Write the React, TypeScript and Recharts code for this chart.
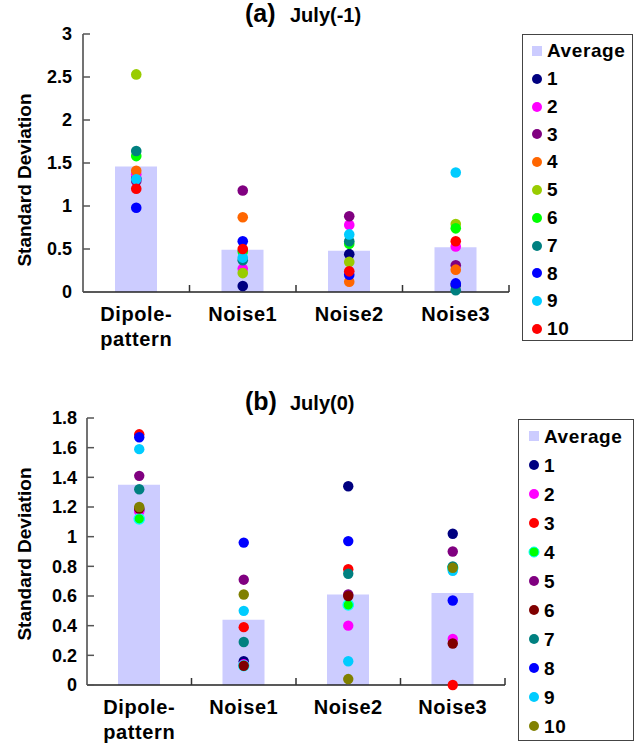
import React from 'react';
import { ComposedChart, Bar, Scatter, XAxis, YAxis, Legend } from 'recharts';

const FONT = '"Liberation Sans", Arial, Helvetica, sans-serif';

// ---------- shared ----------
const categories = ['Dipole-pattern', 'Noise1', 'Noise2', 'Noise3'];
const categoryTickLines: string[][] = [['Dipole-', 'pattern'], ['Noise1'], ['Noise2'], ['Noise3']];
const seriesNames = ['1', '2', '3', '4', '5', '6', '7', '8', '9', '10'];

// ---------- panel (a) July(-1) ----------
const titleA = ['(a)', 'July(-1)'];
const yTicksA = [0, 0.5, 1, 1.5, 2, 2.5, 3];
const avgA = [1.46, 0.49, 0.48, 0.52];
const a1 = [1.32, 0.07, 0.44, 0.08];
const a2 = [1.37, 0.27, 0.78, 0.53];
const a3 = [1.29, 1.18, 0.88, 0.31];
const a4 = [1.41, 0.87, 0.12, 0.26];
const a5 = [2.53, 0.22, 0.35, 0.79];
const a6 = [1.58, 0.47, 0.56, 0.74];
const a7 = [1.64, 0.37, 0.59, 0.02];
const a8 = [0.98, 0.59, 0.2, 0.1];
const a9 = [1.31, 0.4, 0.67, 1.39];
const a10 = [1.2, 0.5, 0.24, 0.59];
const colorsA = ['#000080', '#ff00ff', '#800080', '#ff6600', '#99cc00', '#00ff00', '#008080', '#0000ff', '#00ccff', '#ff0000'];
const strokesA = ['', '', '', '', '', '', '', '', '', ''];

// ---------- panel (b) July(0) ----------
const titleB = ['(b)', 'July(0)'];
const yTicksB = [0, 0.2, 0.4, 0.6, 0.8, 1, 1.2, 1.4, 1.6, 1.8];
const avgB = [1.35, 0.44, 0.61, 0.62];
const b1 = [1.18, 0.16, 1.34, 1.02];
const b2 = [1.17, 0.14, 0.4, 0.31];
const b3 = [1.69, 0.39, 0.78, 0.0];
const b4 = [1.12, 0.13, 0.54, 0.79];
const b5 = [1.41, 0.71, 0.61, 0.9];
const b6 = [1.19, 0.13, 0.6, 0.28];
const b7 = [1.32, 0.29, 0.75, 0.8];
const b8 = [1.67, 0.96, 0.97, 0.57];
const b9 = [1.59, 0.5, 0.16, 0.77];
const b10 = [1.2, 0.61, 0.04, 0.79];
const colorsB = ['#000080', '#ff00ff', '#ff0000', '#00ff00', '#800080', '#800000', '#008080', '#0000ff', '#00ccff', '#808000'];
const strokesB = ['', '', '', '#00ffff', '', '', '', '', '', ''];

const AVG_COLOR = '#ccccff';

function makeRows(avg: number[], series: number[][]) {
  return categories.map((name, i) => {
    const row: any = { name, avg: avg[i] };
    series.forEach((s, k) => {
      row['s' + (k + 1)] = s[i];
    });
    return row;
  });
}

const rowsA = makeRows(avgA, [a1, a2, a3, a4, a5, a6, a7, a8, a9, a10]);
const rowsB = makeRows(avgB, [b1, b2, b3, b4, b5, b6, b7, b8, b9, b10]);

const XTick = (props: any) => {
  const { x, y, payload, band } = props;
  const idx = categories.indexOf(payload.value);
  const lines = categoryTickLines[idx] || [String(payload.value)];
  const bx = x + band / 2;
  return (
    <g>
      <line x1={bx} x2={bx} y1={y} y2={y - 7} stroke="#333" strokeWidth={1.5} />
      {lines.map((l, i) => (
        <text
          key={i}
          x={x}
          y={y + 29 + i * 25}
          textAnchor="middle"
          fontFamily={FONT}
          fontWeight="bold"
          fontSize={20}
          letterSpacing={0.6}
          fill="#000"
        >
          {l}
        </text>
      ))}
    </g>
  );
};

const YTick = (props: any) => {
  const { x, y, payload, margin } = props;
  const ax = x + margin;
  return (
    <g>
      <line x1={ax} x2={ax + 7} y1={y} y2={y} stroke="#555" strokeWidth={1.5} />
      <text
        x={x}
        y={y}
        dy="0.36em"
        textAnchor="end"
        fontFamily={FONT}
        fontWeight="bold"
        fontSize={18}
        fill="#000"
      >
        {String(payload.value)}
      </text>
    </g>
  );
};

function LegendBox({ colors, strokes, width, height, rowH, padTop, markerX, textX }: any) {
  const items = [{ label: 'Average', type: 'square', color: AVG_COLOR, stroke: '' }].concat(
    seriesNames.map((n, k) => ({ label: n, type: 'circle', color: colors[k], stroke: strokes[k] }))
  );
  return (
    <div
      style={{
        position: 'relative',
        width,
        height,
        boxSizing: 'border-box',
        border: '1.5px solid #444',
        background: '#fff',
        fontFamily: FONT,
        fontWeight: 'bold',
        fontSize: 19,
        letterSpacing: 0.6,
        color: '#000',
      }}
    >
      {items.map((it, i) => {
        const cy = padTop + rowH * i;
        return (
          <div key={i} style={{ position: 'absolute', left: 0, top: cy - rowH / 2, height: rowH, width: '100%' }}>
            <svg
              width={14}
              height={14}
              style={{ position: 'absolute', left: markerX - 7, top: rowH / 2 - 7 }}
            >
              {it.type === 'square' ? (
                <rect x={2} y={2} width={10} height={10} fill={it.color} />
              ) : (
                <circle cx={7} cy={7} r={5} fill={it.color} stroke={it.stroke || 'none'} strokeWidth={it.stroke ? 1 : 0} />
              )}
            </svg>
            <div
              style={{
                position: 'absolute',
                left: textX,
                top: 0,
                height: rowH,
                lineHeight: rowH + 'px',
                whiteSpace: 'nowrap',
              }}
            >
              {it.label}
            </div>
          </div>
        );
      })}
    </div>
  );
}

function Panel(props: any) {
  const {
    top, height, rows, colors, strokes, yTicks, yMax, yAxisWidth, yTickMargin, margin, band,
    dotR, legendLeft, legendTop, legendW, legendH, rowH, padTop, markerX, textX,
  } = props;
  return (
    <div style={{ position: 'absolute', left: 0, top, width: 636, height }}>
      <ComposedChart width={636} height={height} data={rows} margin={margin}>
        <XAxis
          dataKey="name"
          height={50}
          tickSize={0}
          tickMargin={0}
          interval={0}
          axisLine={{ stroke: '#222', strokeWidth: 1.5 }}
          tickLine={false}
          tick={(p: any) => <XTick {...p} band={band} />}
        />
        <YAxis
          type="number"
          domain={[0, yMax]}
          ticks={yTicks}
          interval={0}
          width={yAxisWidth}
          tickSize={0}
          tickMargin={yTickMargin}
          axisLine={{ stroke: '#444', strokeWidth: 1.5 }}
          tickLine={false}
          tick={(p: any) => <YTick {...p} margin={yTickMargin} />}
        />
        <Bar dataKey="avg" name="Average" fill={AVG_COLOR} barSize={42} isAnimationActive={false} />
        {seriesNames.map((n, k) => (
          <Scatter
            key={n}
            name={n}
            dataKey={'s' + (k + 1)}
            fill={colors[k]}
            isAnimationActive={false}
            shape={(p: any) => (
              <circle
                cx={p.cx}
                cy={p.cy}
                r={dotR}
                fill={colors[k]}
                stroke={strokes[k] || 'none'}
                strokeWidth={strokes[k] ? 1.2 : 0}
              />
            )}
          />
        ))}
        <Legend
          layout="vertical"
          align="center"
          verticalAlign="middle"
          wrapperStyle={{ left: legendLeft, top: legendTop, width: legendW, height: legendH }}
          content={() => (
            <LegendBox
              colors={colors}
              strokes={strokes}
              width={legendW}
              height={legendH}
              rowH={rowH}
              padTop={padTop}
              markerX={markerX}
              textX={textX}
            />
          )}
        />
      </ComposedChart>
    </div>
  );
}

export default function App() {
  return (
    <div
      style={{
        position: 'absolute',
        left: 0,
        top: 0,
        width: 636,
        height: 743,
        background: '#fff',
        overflow: 'hidden',
        fontFamily: FONT,
      }}
    >
      <Panel
        top={0}
        height={370}
        rows={rowsA}
        colors={colorsA}
        strokes={strokesA}
        yTicks={yTicksA}
        yMax={3}
        yAxisWidth={83}
        yTickMargin={11}
        margin={{ top: 34, right: 127, left: 0, bottom: 28 }}
        band={106.5}
        dotR={5.3}
        legendLeft={522}
        legendTop={34}
        legendW={111}
        legendH={307}
        rowH={27.8}
        padTop={16}
        markerX={14}
        textX={24}
      />
      <Panel
        top={370}
        height={373}
        rows={rowsB}
        colors={colorsB}
        strokes={strokesB}
        yTicks={yTicksB}
        yMax={1.8}
        yAxisWidth={87}
        yTickMargin={10}
        margin={{ top: 48, right: 131, left: 0, bottom: 8 }}
        band={104.5}
        dotR={5.2}
        legendLeft={518}
        legendTop={49}
        legendW={116}
        legendH={322}
        rowH={29}
        padTop={16}
        markerX={15}
        textX={25}
      />
      <svg
        width={636}
        height={743}
        style={{ position: 'absolute', left: 0, top: 0, pointerEvents: 'none' }}
      >
        <g fontFamily={FONT} fontWeight="bold" fill="#000">
          <text x={245} y={22} fontSize={25}>{titleA[0]}</text>
          <text x={290} y={22} fontSize={20}>{titleA[1]}</text>
          <text x={245} y={410} fontSize={25}>{titleB[0]}</text>
          <text x={290} y={410} fontSize={20}>{titleB[1]}</text>
          <text x={31} y={180} fontSize={19} textAnchor="middle" transform="rotate(-90 31 180)">
            Standard Deviation
          </text>
          <text x={31} y={554} fontSize={19} textAnchor="middle" transform="rotate(-90 31 554)">
            Standard Deviation
          </text>
        </g>
      </svg>
    </div>
  );
}
